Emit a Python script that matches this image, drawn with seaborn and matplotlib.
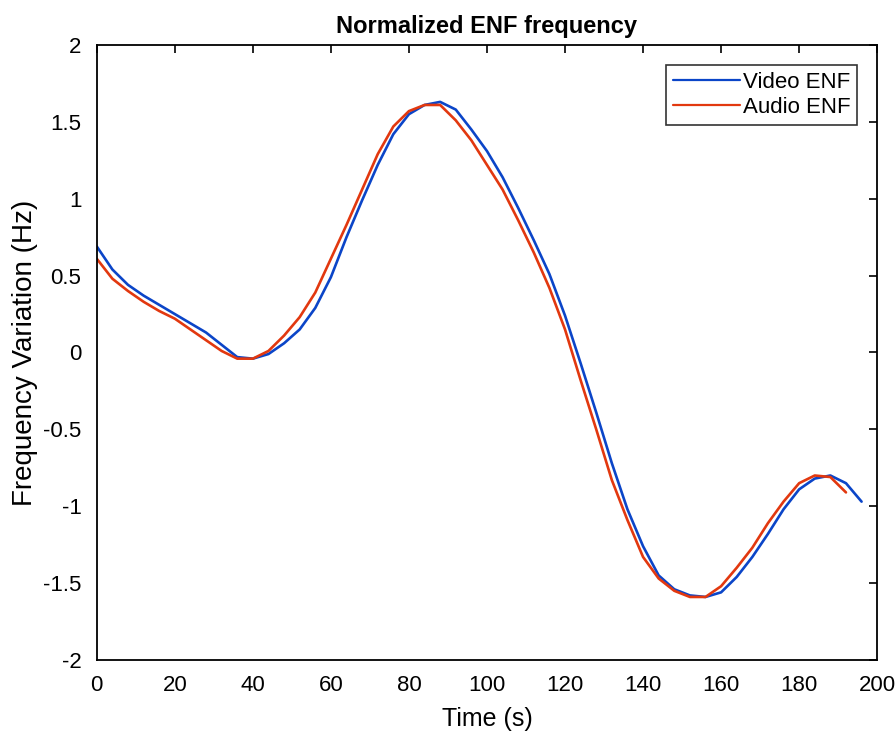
import pandas as pd
import matplotlib.pyplot as plt
import seaborn as sns

# values, 4 s spacing
audio_time = list(range(0, 193, 4))
audio_enf = [0.61, 0.48, 0.40, 0.33, 0.27, 0.22, 0.15, 0.08, 0.01, -0.04,
             -0.04, 0.01, 0.11, 0.23, 0.39, 0.61, 0.83, 1.06, 1.29, 1.47,
             1.57, 1.61, 1.61, 1.51, 1.38, 1.22, 1.06, 0.86, 0.65, 0.42,
             0.15, -0.18, -0.50, -0.83, -1.09, -1.33, -1.47, -1.55, -1.59, -1.59,
             -1.52, -1.40, -1.27, -1.11, -0.97, -0.85, -0.80, -0.81, -0.91]

video_time = list(range(0, 197, 4))
video_enf = [0.69, 0.54, 0.44, 0.37, 0.31, 0.25, 0.19, 0.13, 0.05, -0.03,
             -0.04, -0.01, 0.06, 0.15, 0.29, 0.49, 0.75, 0.99, 1.22, 1.42,
             1.55, 1.61, 1.63, 1.58, 1.45, 1.31, 1.14, 0.94, 0.73, 0.51,
             0.24, -0.07, -0.39, -0.72, -1.02, -1.26, -1.45, -1.54, -1.58, -1.59,
             -1.56, -1.46, -1.33, -1.18, -1.02, -0.89, -0.82, -0.80, -0.85, -0.97]

x_ticks = [0, 20, 40, 60, 80, 100, 120, 140, 160, 180, 200]
y_ticks = [-2, -1.5, -1, -0.5, 0, 0.5, 1, 1.5, 2]
y_labels = ["-2", "-1.5", "-1", "-0.5", "0", "0.5", "1", "1.5", "2"]

df = pd.concat([
    pd.DataFrame({"time": video_time, "enf": video_enf, "source": "Video ENF"}),
    pd.DataFrame({"time": audio_time, "enf": audio_enf, "source": "Audio ENF"}),
])

sns.set_style("white")
plt.rcParams["font.family"] = ["Liberation Sans", "DejaVu Sans"]
plt.rcParams["axes.unicode_minus"] = False
plt.rcParams["text.color"] = "black"
plt.rcParams["axes.labelcolor"] = "black"

fig = plt.figure(figsize=(8.96, 7.33), dpi=100)
ax = fig.add_axes([0.108, 0.0996, 0.871, 0.839])

sns.lineplot(data=df, x="time", y="enf", hue="source",
             palette={"Video ENF": "#0b45c8", "Audio ENF": "#e2380f"},
             linewidth=1.9, ax=ax, sort=False)

ax.set_xlim(0, 200)
ax.set_ylim(-2, 2)
ax.set_xticks(x_ticks)
ax.set_yticks(y_ticks)
ax.set_yticklabels(y_labels)
ax.tick_params(direction="in", length=6, width=1.2, top=True, right=True,
               labelsize=16, colors="black")
ax.tick_params(axis="x", pad=11)
ax.tick_params(axis="y", pad=11)
for sp in ax.spines.values():
    sp.set_color("black")
    sp.set_linewidth(1.3)

ax.set_xlabel("Time (s)", fontsize=18, labelpad=8)
ax.set_ylabel("Frequency Variation (Hz)", fontsize=20, labelpad=4)
ax.set_title("Normalized ENF frequency", fontsize=17, fontweight="bold", pad=9)

leg = ax.legend(loc="upper right", fontsize=16, frameon=True, fancybox=False,
                handlelength=3.0, handletextpad=0.15, borderpad=0.3,
                labelspacing=0.2, borderaxespad=0.9)
leg.get_frame().set_edgecolor("black")
leg.get_frame().set_linewidth(1.2)
for h in leg.get_lines():
    h.set_linewidth(1.6)

fig.savefig("out.png", dpi=100)
